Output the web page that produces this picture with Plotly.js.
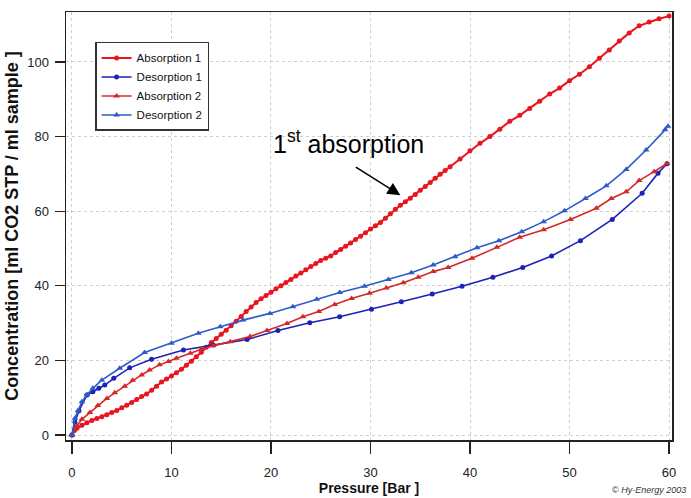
<!DOCTYPE html>
<html>
<head>
<meta charset="utf-8">
<script src="https://cdn.plot.ly/plotly-3.0.1.min.js"></script>
<style>html,body{margin:0;padding:0;background:#fff;}#chart{width:691px;height:498px;}</style>
</head>
<body>
<div id="chart"></div>
<script>
// Absorption 1 (red circles)
const abs1X = [0,0.25,0.5,1,1.5,2,2.5,3,3.5,4,4.5,5,5.5,6,6.5,7,7.5,8,8.5,9,9.5,10,10.5,11,11.5,12,12.5,13,13.5,14,14.5,15,15.5,16,16.5,17,17.5,18,18.5,19,19.5,20,20.5,21,21.5,22,22.5,23,23.5,24,24.5,25,25.5,26,26.5,27,27.5,28,28.5,29,29.5,30,30.5,31,31.5,32,32.5,33,33.5,34,34.5,35,35.5,36,36.5,37,37.5,38,39,40,41,42,43,44,45,46,47,48,49,50,51,52,53,54,55,56,57,58,59,60];
const abs1Y = [0,1.2,1.8,2.6,3.3,3.9,4.4,4.9,5.4,6.0,6.6,7.3,8.0,8.7,9.5,10.3,11.0,12.0,13.1,14.2,15.0,15.8,16.7,17.6,18.7,19.8,21.0,22.2,23.5,24.8,25.9,27.0,28.1,29.3,30.5,31.8,33.1,34.3,35.5,36.5,37.4,38.3,39.2,40.0,40.9,41.7,42.6,43.4,44.3,45.2,46.0,46.8,47.4,48.0,48.9,49.7,50.6,51.5,52.4,53.3,54.2,55.2,56.1,57.0,58.1,59.3,60.5,61.6,62.5,63.5,64.5,65.6,66.6,67.7,68.8,69.9,70.9,71.9,74.0,76.2,78.2,80.0,82.0,84.1,85.7,87.5,89.5,91.4,93.0,95.0,96.7,98.7,101.0,103.2,105.6,107.8,109.7,110.7,111.6,112.3];
// Desorption 1 (dark blue circles)
const des1X = [0,0.3,0.7,1.5,2.1,2.7,3.3,4.2,5.8,8.0,11.2,14.2,17.6,20.7,23.9,26.9,30.1,33.1,36.2,39.2,42.3,45.3,48.2,51.1,54.3,57.3,58.9,59.8];
const des1Y = [0,3.5,6.5,10.7,11.6,12.5,13.4,15.2,18.0,20.3,22.8,24.1,25.6,28.0,30.1,31.7,33.7,35.7,37.8,39.9,42.3,44.9,48.0,52.1,57.8,64.8,70.2,72.7];
// Absorption 2 (red triangles)
const abs2X = [0,0.5,1.0,1.8,2.6,3.5,4.3,5.3,6.1,7.0,7.8,8.8,9.7,10.5,11.9,13.0,14.2,15.9,17.9,19.6,21.6,23.2,24.8,26.4,28.1,29.9,31.6,33.3,34.8,36.3,37.8,40.2,42.7,45.0,47.4,50.1,52.7,54.2,55.7,57.0,58.5,59.8];
const abs2Y = [0,2.5,4.2,6.0,7.9,9.8,11.3,13.1,14.7,16.1,17.4,18.8,19.7,20.6,21.9,23.0,23.9,25.0,26.4,28.0,29.9,31.7,33.1,35.0,36.6,38.0,39.4,40.8,42.3,43.8,44.9,47.4,50.3,53.0,55.0,57.8,60.8,63.4,65.2,68.2,70.6,72.8];
// Desorption 2 (blue triangles)
const des2X = [0,0.3,0.6,1.0,1.5,2.1,3.0,4.8,7.3,10.0,12.7,14.9,17.2,19.9,22.2,24.6,26.9,29.4,31.8,34.1,36.3,38.5,40.7,42.9,45.2,47.4,49.5,51.6,53.7,55.7,57.7,59.6,59.9];
const des2Y = [0,4.5,6.5,8.9,10.8,12.5,14.7,17.9,22.1,24.6,27.3,29.0,30.8,32.6,34.4,36.4,38.2,39.9,41.7,43.5,45.6,47.8,50.2,52.1,54.5,57.2,60.1,63.4,66.8,71.2,76.4,81.8,82.8];

const seriesNames = ["Absorption 1","Desorption 1","Absorption 2","Desorption 2"];
const xTicks = [0,10,20,30,40,50,60];
const yTicks = [0,20,40,60,80,100];

const traces = [
  {x: abs1X, y: abs1Y, name: seriesNames[0], mode: "lines+markers",
   line: {color: "#e8141e", width: 2}, marker: {symbol: "circle", size: 5, color: "#e8141e"}},
  {x: des1X, y: des1Y, name: seriesNames[1], mode: "lines+markers",
   line: {color: "#1c22b8", width: 1.6}, marker: {symbol: "circle", size: 5, color: "#1c22b8"}},
  {x: abs2X, y: abs2Y, name: seriesNames[2], mode: "lines+markers",
   line: {color: "#d42828", width: 1.6}, marker: {symbol: "triangle-up", size: 6, color: "#d42828"}},
  {x: des2X, y: des2Y, name: seriesNames[3], mode: "lines+markers",
   line: {color: "#2c5ccc", width: 1.6}, marker: {symbol: "triangle-up", size: 6, color: "#2c5ccc"}}
];

const sans = "Liberation Sans, Arial, sans-serif";

const layout = {
  width: 691, height: 498,
  margin: {l: 66, r: 19, t: 12, b: 58},
  paper_bgcolor: "#fff", plot_bgcolor: "#fff",
  showlegend: true,
  legend: {x: 0.048, y: 0.93, xanchor: "left", yanchor: "top",
           bgcolor: "#fff", bordercolor: "#333", borderwidth: 1.5,
           font: {family: sans, size: 11.5, color: "#111"},
           itemwidth: 30, tracegroupgap: 0},
  xaxis: {range: [-0.6, 60.3], tickvals: xTicks, ticktext: xTicks.map(String),
          ticks: "outside", ticklen: 12, tickwidth: 1.2, tickcolor: "#222",
          ticklabelstandoff: 8,
          showline: true, linecolor: "#222", linewidth: 1.5, mirror: true,
          showgrid: true, gridcolor: "#cfcfcf", griddash: "dot", gridwidth: 1,
          zeroline: false,
          tickfont: {family: sans, size: 13, color: "#222"},
          title: {text: "Pressure [Bar ]", standoff: 0,
                  font: {family: sans, size: 14, color: "#111", weight: "bold"}}},
  yaxis: {range: [-1.34, 113.4], tickvals: yTicks, ticktext: yTicks.map(String),
          ticks: "outside", ticklen: 10, tickwidth: 1.2, tickcolor: "#222",
          ticklabelstandoff: 3,
          showline: true, linecolor: "#222", linewidth: 1.5, mirror: true,
          showgrid: true, gridcolor: "#cfcfcf", griddash: "dot", gridwidth: 1,
          zeroline: false,
          tickfont: {family: sans, size: 13, color: "#222"},
          title: {text: "Concentration [ml CO2 STP / ml sample ]", standoff: 4,
                  font: {family: sans, size: 18, color: "#111", weight: "bold"}}},
  annotations: [
    {x: 27.8, y: 78.5, xref: "x", yref: "y", text: "1<sup>st</sup> absorption", showarrow: false,
     font: {family: sans, size: 25, color: "#000"}},
    {x: 33.0, y: 64.3, xref: "x", yref: "y", text: "", showarrow: true,
     ax: -46, ay: -29, arrowhead: 2, arrowsize: 1.6, arrowwidth: 1.6, arrowcolor: "#000"},
    {x: 1.026, y: -0.117, xref: "paper", yref: "paper", xanchor: "right", yanchor: "middle",
     text: "© <i>Hy-Energy 2003</i>", showarrow: false,
     font: {family: sans, size: 9, color: "#333"}}
  ]
};

Plotly.newPlot("chart", traces, layout, {displayModeBar: false, staticPlot: true});
</script>
</body>
</html>
